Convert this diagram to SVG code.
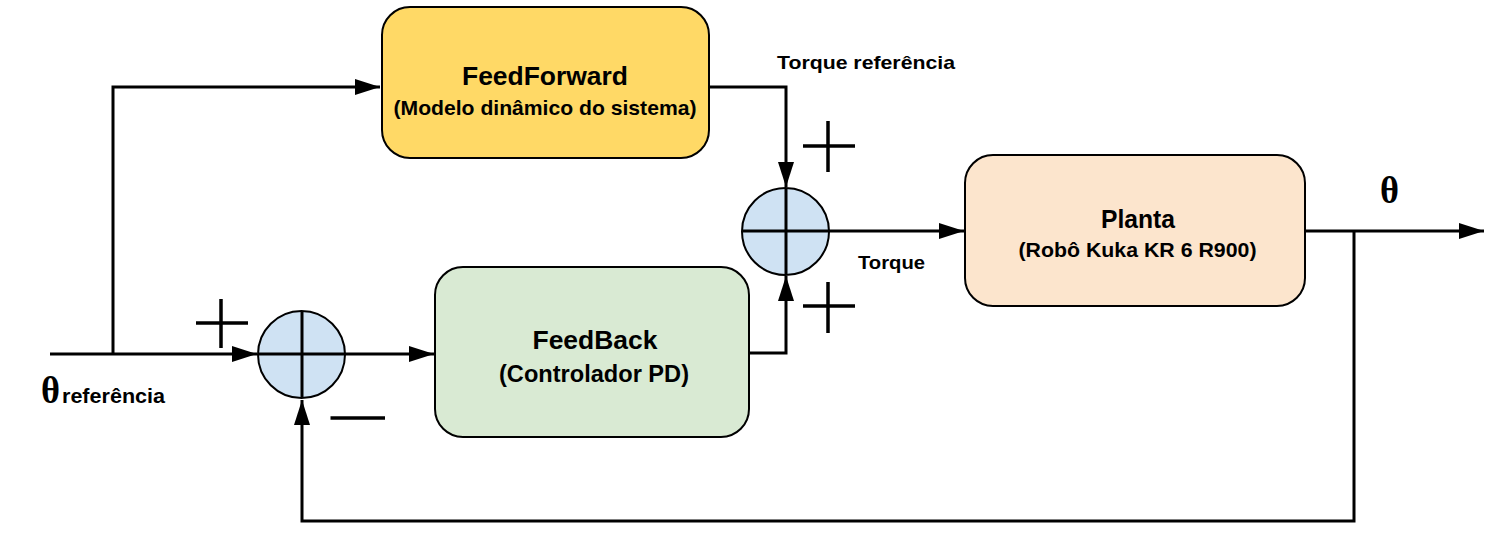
<svg xmlns="http://www.w3.org/2000/svg" width="1503" height="540" viewBox="0 0 1503 540">
<style>
.box{stroke:#000;stroke-width:2}
.ln{fill:none;stroke:#000;stroke-width:3}
.sum{fill:#CFE2F3;stroke:#000;stroke-width:2}
.t{font-family:"Liberation Sans",Arial,sans-serif;font-weight:bold;fill:#000}
.th{font-family:"Liberation Serif","Times New Roman",serif;font-weight:bold;fill:#000}
.sign{stroke:#000;stroke-width:3.5;fill:none}
</style>
<defs>
<marker id="ah" markerUnits="userSpaceOnUse" markerWidth="26" markerHeight="18" refX="25" refY="8" orient="auto">
<path d="M0,0 L25,8 L0,16 z" fill="#000"/>
</marker>
</defs>
<rect width="1503" height="540" fill="#fff"/>
<g id="connectors">
<path class="ln" d="M50,354 H257" marker-end="url(#ah)"/>
<path class="ln" d="M113,354 V87 H380" marker-end="url(#ah)"/>
<path class="ln" d="M345,354 H434" marker-end="url(#ah)"/>
<path class="ln" d="M709,87 H786 V187" marker-end="url(#ah)"/>
<path class="ln" d="M750,353 H786 V276" marker-end="url(#ah)"/>
<path class="ln" d="M829,231 H964" marker-end="url(#ah)"/>
<path class="ln" d="M1305,231 H1484" marker-end="url(#ah)"/>
<path class="ln" d="M1354,231 V521 H302 V400" marker-end="url(#ah)"/>
</g>
<g id="feedforward">
<rect class="box" x="382" y="7" width="327" height="151" rx="28" fill="#FFD966"/>
<text class="t" x="545" y="85" font-size="25.5" text-anchor="middle" textLength="166" lengthAdjust="spacingAndGlyphs">FeedForward</text>
<text class="t" x="545" y="115" font-size="21" text-anchor="middle" textLength="303" lengthAdjust="spacingAndGlyphs">(Modelo dinâmico do sistema)</text>
</g>
<g id="feedback">
<rect class="box" x="435" y="267" width="314" height="170" rx="28" fill="#D9EAD3"/>
<text class="t" x="595" y="349" font-size="26" text-anchor="middle" textLength="125" lengthAdjust="spacingAndGlyphs">FeedBack</text>
<text class="t" x="594" y="382" font-size="23" text-anchor="middle" textLength="190" lengthAdjust="spacingAndGlyphs">(Controlador PD)</text>
</g>
<g id="planta">
<rect class="box" x="965" y="155" width="340" height="151" rx="28" fill="#FCE5CD"/>
<text class="t" x="1138" y="228" font-size="25" text-anchor="middle" textLength="74" lengthAdjust="spacingAndGlyphs">Planta</text>
<text class="t" x="1137.5" y="256.5" font-size="21" text-anchor="middle" textLength="238" lengthAdjust="spacingAndGlyphs">(Robô Kuka KR 6 R900)</text>
</g>
<g id="sum1">
<circle class="sum" cx="301.5" cy="354.5" r="43.5"/>
<path class="ln" d="M258,354 H345 M302,311 V398"/>
</g>
<g id="sum2">
<circle class="sum" cx="785.5" cy="231.5" r="43.5"/>
<path class="ln" d="M742,231 H829 M786,188 V275"/>
</g>
<g id="signs">
<path class="sign" d="M196,323 H248 M221,299 V348"/>
<path class="sign" d="M330.5,418 H385" stroke-width="4.5"/>
<path class="sign" d="M803,146 H855 M828,121 V172"/>
<path class="sign" d="M803,306 H855 M828,282 V333"/>
</g>
<g id="labels">
<text class="t" x="777" y="69" font-size="18.5" textLength="178" lengthAdjust="spacingAndGlyphs">Torque referência</text>
<text class="t" x="858" y="268.5" font-size="18.5" textLength="67" lengthAdjust="spacingAndGlyphs">Torque</text>
<text class="th" x="41" y="403" font-size="37" textLength="19" lengthAdjust="spacingAndGlyphs">θ</text>
<text class="t" x="62" y="403" font-size="21" textLength="103" lengthAdjust="spacingAndGlyphs">referência</text>
<text class="th" x="1380" y="203" font-size="37" textLength="19" lengthAdjust="spacingAndGlyphs">θ</text>
</g>
</svg>
